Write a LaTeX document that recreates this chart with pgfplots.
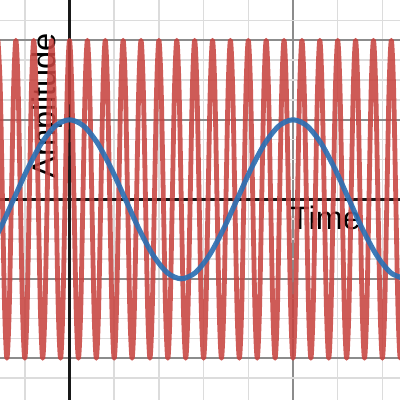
\documentclass[border=0pt]{standalone}
\usepackage{pgfplots}
\pgfplotsset{compat=1.18}
\usepackage{fontspec}
\setmainfont{Liberation Sans}
\definecolor{dred}{HTML}{C74440}
\definecolor{dblue}{HTML}{2D70B3}
\definecolor{majgrid}{HTML}{8C8C8C}
\definecolor{mingrid}{HTML}{DCDCDC}
\begin{document}
\begin{tikzpicture}
\begin{axis}[
  width=300pt, height=300pt, scale only axis,
  xmin=-1.555, xmax=7.394, ymin=-2.525, ymax=2.507,
  axis line style={draw=none},
  xtick={-5,0,5,10},
  minor xtick={-2,-1,1,2,3,4,6,7,8},
  ytick={-2,-1,0,1,2},
  minor ytick={-2.25,-1.75,-1.5,-1.25,-0.75,-0.5,-0.25,0.25,0.5,0.75,1.25,1.5,1.75,2.25},
  xticklabels={}, yticklabels={},
  major tick length=0pt, minor tick length=0pt,
  grid=both,
  major grid style={draw=majgrid, line width=1.4pt},
  minor grid style={draw=mingrid, line width=1.2pt},
]
\draw[black!90, line width=2.2pt] (axis cs:0,-3) -- (axis cs:0,3);
\draw[black!90, line width=2.2pt] (axis cs:-2,0) -- (axis cs:8,0);
\node[rotate=90, anchor=base west, inner sep=0pt, font=\fontsize{24.5}{29}\selectfont] at (axis cs:-0.324,0.26) {Amplitude};
\node[anchor=base west, inner sep=0pt, font=\fontsize{24.3}{29}\selectfont] at (axis cs:4.93,-0.374) {Time};
\addplot[dred, opacity=0.88, line width=3.6pt, line join=round, line cap=round, smooth] coordinates {
(-1.6,2)(-1.55,1.414)(-1.5,0)(-1.45,-1.414)(-1.4,-2)(-1.35,-1.414)(-1.3,0)(-1.25,1.414)
(-1.2,2)(-1.15,1.414)(-1.1,0)(-1.05,-1.414)(-1.0,-2)(-0.95,-1.414)(-0.9,0)(-0.85,1.414)
(-0.8,2)(-0.75,1.414)(-0.7,0)(-0.65,-1.414)(-0.6,-2)(-0.55,-1.414)(-0.5,0)(-0.45,1.414)
(-0.4,2)(-0.35,1.414)(-0.3,0)(-0.25,-1.414)(-0.2,-2)(-0.15,-1.414)(-0.1,0)(-0.05,1.414)
(0,2)(0.05,1.414)(0.1,0)(0.15,-1.414)(0.2,-2)(0.25,-1.414)(0.3,0)(0.35,1.414)
(0.4,2)(0.45,1.414)(0.5,0)(0.55,-1.414)(0.6,-2)(0.65,-1.414)(0.7,0)(0.75,1.414)
(0.8,2)(0.85,1.414)(0.9,0)(0.95,-1.414)(1.0,-2)(1.05,-1.414)(1.1,0)(1.15,1.414)
(1.2,2)(1.25,1.414)(1.3,0)(1.35,-1.414)(1.4,-2)(1.45,-1.414)(1.5,0)(1.55,1.414)
(1.6,2)(1.65,1.414)(1.7,0)(1.75,-1.414)(1.8,-2)(1.85,-1.414)(1.9,0)(1.95,1.414)
(2.0,2)(2.05,1.414)(2.1,0)(2.15,-1.414)(2.2,-2)(2.25,-1.414)(2.3,0)(2.35,1.414)
(2.4,2)(2.45,1.414)(2.5,0)(2.55,-1.414)(2.6,-2)(2.65,-1.414)(2.7,0)(2.75,1.414)
(2.8,2)(2.85,1.414)(2.9,0)(2.95,-1.414)(3.0,-2)(3.05,-1.414)(3.1,0)(3.15,1.414)
(3.2,2)(3.25,1.414)(3.3,0)(3.35,-1.414)(3.4,-2)(3.45,-1.414)(3.5,0)(3.55,1.414)
(3.6,2)(3.65,1.414)(3.7,0)(3.75,-1.414)(3.8,-2)(3.85,-1.414)(3.9,0)(3.95,1.414)
(4.0,2)(4.05,1.414)(4.1,0)(4.15,-1.414)(4.2,-2)(4.25,-1.414)(4.3,0)(4.35,1.414)
(4.4,2)(4.45,1.414)(4.5,0)(4.55,-1.414)(4.6,-2)(4.65,-1.414)(4.7,0)(4.75,1.414)
(4.8,2)(4.85,1.414)(4.9,0)(4.95,-1.414)(5.0,-2)(5.05,-1.414)(5.1,0)(5.15,1.414)
(5.2,2)(5.25,1.414)(5.3,0)(5.35,-1.414)(5.4,-2)(5.45,-1.414)(5.5,0)(5.55,1.414)
(5.6,2)(5.65,1.414)(5.7,0)(5.75,-1.414)(5.8,-2)(5.85,-1.414)(5.9,0)(5.95,1.414)
(6.0,2)(6.05,1.414)(6.1,0)(6.15,-1.414)(6.2,-2)(6.25,-1.414)(6.3,0)(6.35,1.414)
(6.4,2)(6.45,1.414)(6.5,0)(6.55,-1.414)(6.6,-2)(6.65,-1.414)(6.7,0)(6.75,1.414)
(6.8,2)(6.85,1.414)(6.9,0)(6.95,-1.414)(7.0,-2)(7.05,-1.414)(7.1,0)(7.15,1.414)
(7.2,2)(7.25,1.414)(7.3,0)(7.35,-1.414)(7.4,-2)(7.45,-1.414)(7.5,0)(7.55,1.414)
(7.6,2)
};
\addplot[dblue, opacity=0.92, line width=3.8pt, line join=round, line cap=round, smooth] coordinates {
(-1.875,-0.707)(-1.5625,-0.383)(-1.25,0)(-0.9375,0.383)(-0.625,0.707)(-0.3125,0.924)
(0,1)(0.3125,0.924)(0.625,0.707)(0.9375,0.383)(1.25,0)(1.5625,-0.383)(1.875,-0.707)(2.1875,-0.924)
(2.5,-1)(2.8125,-0.924)(3.125,-0.707)(3.4375,-0.383)(3.75,0)(4.0625,0.383)(4.375,0.707)(4.6875,0.924)
(5,1)(5.3125,0.924)(5.625,0.707)(5.9375,0.383)(6.25,0)(6.5625,-0.383)(6.875,-0.707)(7.1875,-0.924)
(7.5,-1)
};
\end{axis}
\pgfresetboundingbox
\path[use as bounding box] (current axis.south west) rectangle (current axis.north east);
\end{tikzpicture}
\end{document}
